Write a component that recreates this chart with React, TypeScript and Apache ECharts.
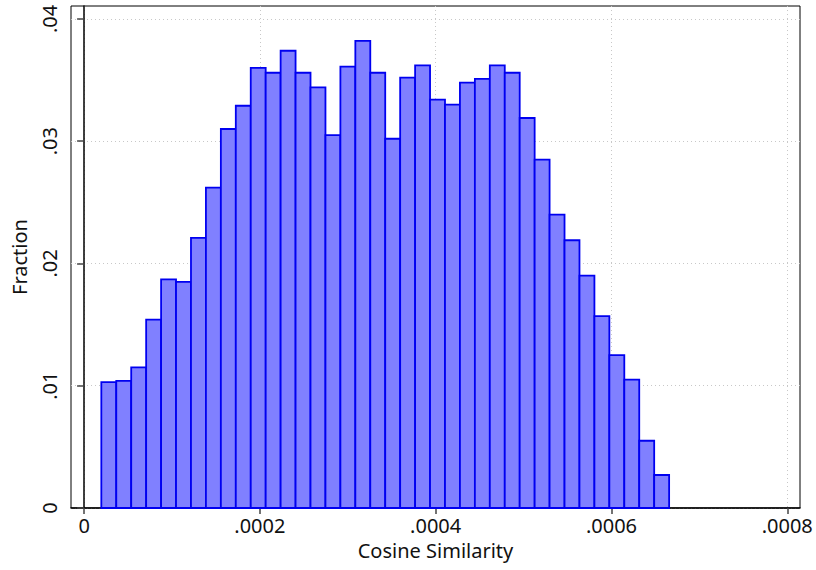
import React, { useEffect, useRef } from "react";
import * as echarts from "echarts";

// Histogram of cosine similarity: equal-width bins starting at binStart.
const binStart = 0.0000196;
const binWidth = 0.000017;
const fractions = [
  0.0103, 0.0104, 0.0115, 0.0154, 0.0187, 0.0185, 0.0221, 0.0262, 0.031, 0.0329,
  0.036, 0.0356, 0.0374, 0.0356, 0.0344, 0.0305, 0.0361, 0.0382, 0.0356, 0.0302,
  0.0352, 0.0362, 0.0334, 0.033, 0.0348, 0.0351, 0.0362, 0.0356, 0.0319, 0.0285,
  0.024, 0.0219, 0.019, 0.0157, 0.0125, 0.0105, 0.0055, 0.0027,
];
const xTicks = [0, 0.0002, 0.0004, 0.0006, 0.0008];
const yTicks = [0, 0.01, 0.02, 0.03, 0.04];

const fmt = (v: number) => (v === 0 ? "0" : String(v).replace(/^0\./, "."));

const FONT = "Noto Sans";
const FS = 20;

export default function App() {
  const ref = useRef<HTMLDivElement>(null);

  useEffect(() => {
    if (!ref.current) return;
    const chart = echarts.init(ref.current, undefined, { renderer: "svg" });

    const bins = fractions.map((f, i) => [
      binStart + i * binWidth,
      binStart + (i + 1) * binWidth,
      f,
    ]);

    const gridLine = {
      show: true,
      lineStyle: { color: "#c8c8c8", width: 1, type: [1, 3] as any },
    };

    chart.setOption({
      animation: false,
      backgroundColor: "#ffffff",
      grid: {
        left: 71,
        right: 16,
        top: 6,
        bottom: 62,
        show: true,
        borderColor: "#000",
        borderWidth: 1,
        backgroundColor: "#fff",
      },
      xAxis: {
        type: "value",
        min: -0.0000149,
        max: 0.0008145,
        name: "Cosine Similarity",
        nameLocation: "middle",
        nameGap: 32,
        nameTextStyle: { fontFamily: FONT, fontSize: FS, color: "#111" },
        axisLine: { show: true, lineStyle: { color: "#000", width: 1.5 } },
        axisTick: {
          show: true,
          length: 6,
          customValues: xTicks,
          lineStyle: { color: "#444", width: 1.5 },
        },
        axisLabel: {
          customValues: xTicks,
          formatter: fmt,
          fontFamily: FONT,
          fontSize: FS,
          color: "#111",
          margin: 7,
        },
        splitLine: gridLine,
      },
      yAxis: {
        type: "value",
        min: 0,
        max: 0.04106,
        name: "Fraction",
        nameLocation: "middle",
        nameGap: 42,
        nameTextStyle: { fontFamily: FONT, fontSize: FS, color: "#111" },
        axisLine: { show: true, lineStyle: { color: "#000", width: 1.5 } },
        axisTick: {
          show: true,
          length: 7,
          customValues: yTicks,
          lineStyle: { color: "#444", width: 1.5 },
        },
        axisLabel: {
          customValues: yTicks,
          formatter: fmt,
          rotate: 90,
          fontFamily: FONT,
          fontSize: FS,
          color: "#111",
          margin: 12,
        },
        splitLine: gridLine,
      },
      series: [
        {
          type: "custom",
          data: bins,
          encode: { x: [0, 1], y: 2 },
          renderItem: (_params: any, api: any) => {
            const x0 = api.value(0);
            const x1 = api.value(1);
            const y = api.value(2);
            const top = api.coord([x0, y]);
            const base = api.coord([x1, 0]);
            return {
              type: "rect",
              shape: {
                x: top[0],
                y: top[1],
                width: base[0] - top[0],
                height: base[1] - top[1],
              },
              style: { fill: "#8080ff", stroke: "#0000f0", lineWidth: 1.8 },
            };
          },
        },
      ],
    });

    return () => chart.dispose();
  }, []);

  return (
    <div
      ref={ref}
      style={{ position: "fixed", left: 0, top: 0, width: 816, height: 570 }}
    />
  );
}
